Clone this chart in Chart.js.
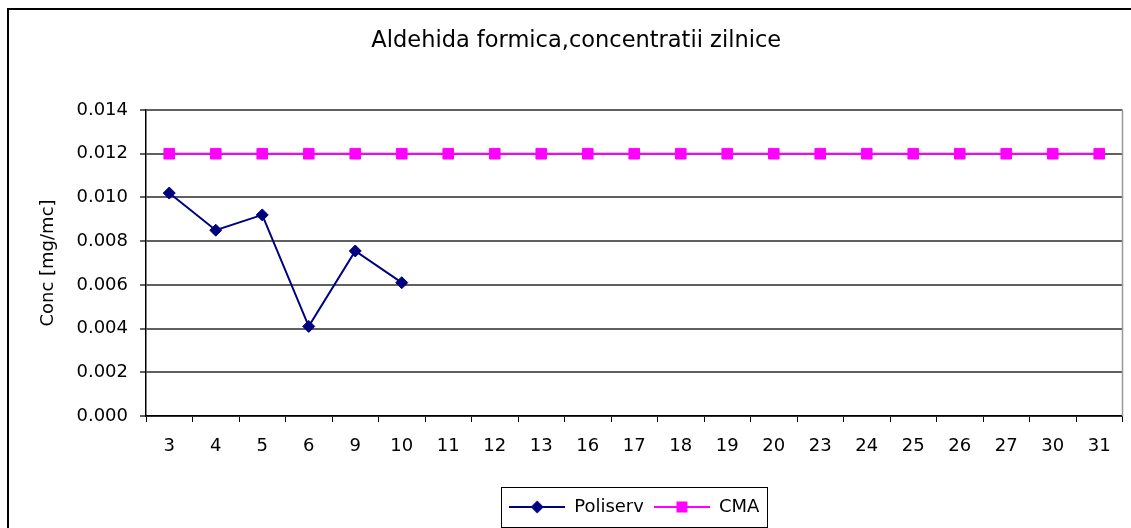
<!DOCTYPE html>
<html>
<head>
<meta charset="utf-8">
<title>Aldehida formica</title>
<script src="https://cdn.jsdelivr.net/npm/chart.js@4.4.1/dist/chart.umd.min.js"></script>
<style>
    html, body { margin: 0; padding: 0; background: #fff; }
    #wrap { width: 1131px; height: 528px; position: relative; }
</style>
</head>
<body>
<div id="wrap"><canvas id="chart"></canvas></div>
<script>
// ======================================================
// Data
// ======================================================
const days = ['3', '4', '5', '6', '9', '10', '11', '12', '13', '16', '17', '18', '19', '20', '23', '24', '25', '26', '27', '30', '31'];
const poliserv = [0.0102, 0.0085, 0.0092, 0.0041, 0.00755, 0.0061, null, null, null, null, null, null, null, null, null, null, null, null, null, null, null];
const cma = [0.012, 0.012, 0.012, 0.012, 0.012, 0.012, 0.012, 0.012, 0.012, 0.012, 0.012, 0.012, 0.012, 0.012, 0.012, 0.012, 0.012, 0.012, 0.012, 0.012, 0.012];
const yTicks = [0, 0.002, 0.004, 0.006, 0.008, 0.010, 0.012, 0.014];

const FONT = 'DejaVu Sans';
const NAVY = '#000080';
const MAGENTA = '#ff00ff';

// legend symbol: line with marker in the middle
function legendSymbol(color, shape) {
    const c = document.createElement('canvas');
    c.width = 56;
    c.height = 14;
    const g = c.getContext('2d');
    g.strokeStyle = color;
    g.lineWidth = 2;
    g.beginPath();
    g.moveTo(0, 7);
    g.lineTo(56, 7);
    g.stroke();
    g.fillStyle = color;
    g.beginPath();
    if (shape === 'diamond') {
        g.moveTo(28, 0.5);
        g.lineTo(34.5, 7);
        g.lineTo(28, 13.5);
        g.lineTo(21.5, 7);
    } else {
        g.rect(22.5, 1.5, 11, 11);
    }
    g.closePath();
    g.fill();
    return c;
}

// borders: outer chart frame, right side of plot, legend box
const framePlugin = {
    id: 'frame',
    afterDraw(chart) {
        const ctx = chart.ctx;
        const a = chart.chartArea;
        ctx.save();
        ctx.strokeStyle = '#000';
        ctx.lineWidth = 2;
        ctx.beginPath();
        ctx.moveTo(8, 528);
        ctx.lineTo(8, 9);
        ctx.lineTo(1131, 9);
        ctx.stroke();

        ctx.strokeStyle = '#999';
        ctx.lineWidth = 1.5;
        ctx.beginPath();
        ctx.moveTo(a.right, a.top);
        ctx.lineTo(a.right, a.bottom);
        ctx.stroke();

        const boxes = chart.legend.legendHitBoxes;
        if (boxes && boxes.length) {
            const first = boxes[0];
            const last = boxes[boxes.length - 1];
            const cy = first.top + first.height / 2;
            ctx.strokeStyle = '#000';
            ctx.lineWidth = 1;
            ctx.strokeRect(Math.round(first.left - 8) + 0.5, Math.round(cy - 20) + 0.5,
                Math.round(last.left + last.width - first.left + 16), 40);
        }
        ctx.restore();
    }
};

new Chart(document.getElementById('chart'), {
    type: 'line',
    data: {
        labels: days,
        datasets: [{
            label: 'Poliserv',
            data: poliserv,
            borderColor: NAVY,
            backgroundColor: NAVY,
            borderWidth: 2,
            pointStyle: 'rectRot',
            pointRadius: 6,
            pointBorderWidth: 1,
            pointBackgroundColor: NAVY,
            pointBorderColor: NAVY,
            spanGaps: false,
            tension: 0
        }, {
            label: 'CMA',
            data: cma,
            borderColor: MAGENTA,
            backgroundColor: MAGENTA,
            borderWidth: 2,
            pointStyle: 'rect',
            pointRadius: 7.5,
            pointBorderWidth: 1,
            pointBackgroundColor: MAGENTA,
            pointBorderColor: MAGENTA,
            tension: 0
        }]
    },
    options: {
        responsive: true,
        maintainAspectRatio: false,
        animation: false,
        layout: { padding: { left: 27, right: 5.5, top: 0, bottom: 2 } },
        plugins: {
            title: {
                display: true,
                text: 'Aldehida formica,concentratii zilnice',
                color: '#000',
                font: { family: FONT, size: 22.5, weight: 'normal' },
                padding: { top: 28, bottom: 55 }
            },
            legend: {
                position: 'bottom',
                fullSize: false,
                labels: {
                    color: '#000',
                    font: { family: FONT, size: 18 },
                    usePointStyle: true,
                    pointStyleWidth: 56,
                    padding: 10,
                    generateLabels: function(chart) {
                        return [
                            { text: 'Poliserv', pointStyle: legendSymbol(NAVY, 'diamond'), fillStyle: NAVY, strokeStyle: NAVY, lineWidth: 0, datasetIndex: 0, fontColor: '#000' },
                            { text: 'CMA', pointStyle: legendSymbol(MAGENTA, 'square'), fillStyle: MAGENTA, strokeStyle: MAGENTA, lineWidth: 0, datasetIndex: 1, fontColor: '#000' }
                        ];
                    }
                }
            },
            tooltip: { enabled: false }
        },
        scales: {
            x: {
                offset: true,
                grid: {
                    offset: true,
                    drawOnChartArea: false,
                    drawTicks: true,
                    tickLength: 6,
                    color: '#000'
                },
                border: { color: '#000', width: 1.5 },
                ticks: {
                    color: '#000',
                    font: { family: FONT, size: 18 },
                    padding: 14,
                    maxRotation: 0,
                    autoSkip: false
                },
                afterFit: function(scale) {
                    scale.height = 72;
                    scale.paddingLeft = 0;
                    scale.paddingRight = 0;
                }
            },
            y: {
                min: 0,
                max: 0.014,
                afterBuildTicks: function(scale) {
                    scale.ticks = yTicks.map(v => ({ value: v }));
                },
                grid: {
                    color: '#606060',
                    lineWidth: 2,
                    tickLength: 6
                },
                border: { color: '#000', width: 1.5 },
                ticks: {
                    color: '#000',
                    font: { family: FONT, size: 18 },
                    padding: 12,
                    callback: function(v) { return Number(v).toFixed(3); }
                },
                title: {
                    display: true,
                    text: 'Conc [mg/mc]',
                    color: '#000',
                    font: { family: FONT, size: 18 },
                    padding: { top: 11, bottom: 0 }
                },
                afterFit: function(scale) { scale.width = 119; }
            }
        }
    },
    plugins: [framePlugin]
});
</script>
</body>
</html>
